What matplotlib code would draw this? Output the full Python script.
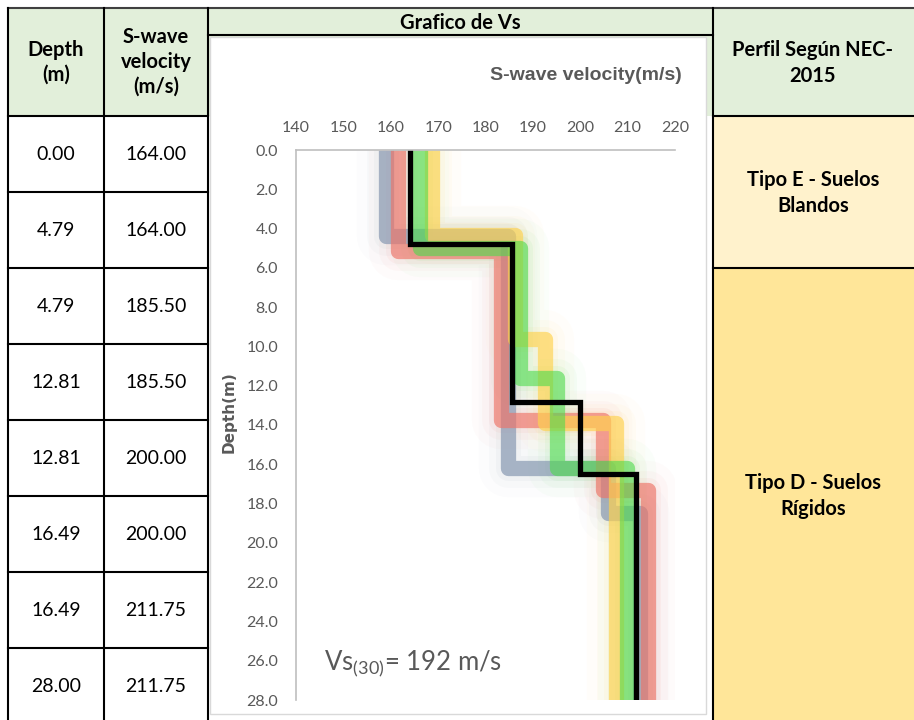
import numpy as np
import matplotlib.pyplot as plt
from matplotlib.patches import Rectangle

plt.rcParams['font.family'] = ['Lato', 'DejaVu Sans']
plt.rcParams['mathtext.fontset'] = 'custom'
plt.rcParams['mathtext.rm'] = 'Lato'

# Datos de la tabla (perfil principal)
depth_tbl = [0.00, 4.79, 4.79, 12.81, 12.81, 16.49, 16.49, 28.00]
vs_tbl = [164.00, 164.00, 185.50, 185.50, 200.00, 200.00, 211.75, 211.75]

# Perfiles de fondo (bandas de colores)
gray_d = [0, 4.4, 4.4, 16.2, 16.2, 18.5, 18.5, 28]
gray_v = [159.1, 159.1, 184.8, 184.8, 205.9, 205.9, 212.6, 212.6]
red_d = [0, 5.15, 5.15, 13.75, 13.75, 17.3, 17.3, 28]
red_v = [161.5, 161.5, 183.3, 183.3, 204.8, 204.8, 214.3, 214.3]
yel_d = [0, 4.35, 4.35, 9.6, 9.6, 13.9, 13.9, 28]
yel_v = [168.7, 168.7, 186.2, 186.2, 192.5, 192.5, 207.6, 207.6]
grn_d = [0, 5.0, 5.0, 11.6, 11.6, 16.2, 16.2, 28]
grn_v = [166.2, 166.2, 187.3, 187.3, 195.0, 195.0, 209.9, 209.9]

perfiles = ["Tipo E - Suelos\nBlandos", "Tipo D - Suelos\nRígidos"]
vs30 = 192

fig = plt.figure(figsize=(9.14, 7.2), dpi=100)

# Fondo en coordenadas de pixel
bg = fig.add_axes([0, 0, 1, 1])
bg.set_xlim(0, 914)
bg.set_ylim(720, 0)
bg.axis('off')

verde = '#E2EFDA'
bg.add_patch(Rectangle((8, 8), 906, 108, color=verde, lw=0))
bg.add_patch(Rectangle((713, 116), 201, 152, color='#FFF2CC', lw=0))
bg.add_patch(Rectangle((713, 268), 201, 452, color='#FFE699', lw=0))
# caja blanca del grafico
bg.add_patch(Rectangle((210, 37), 496, 677, facecolor='white', edgecolor='#D9D9D9', lw=1))

# lineas de la tabla
bg.plot([8, 914], [8, 8], color='#404040', lw=1.5)
for x in [8, 104, 208, 713]:
    bg.plot([x, x], [8, 720], color='black', lw=1.5)
for y in [116, 192, 268, 344, 420, 496, 572, 648]:
    bg.plot([8, 208], [y, y], color='black', lw=1.5)
bg.plot([208, 713], [35, 35], color='black', lw=1.5)
for y in [116, 268]:
    bg.plot([713, 914], [y, y], color='black', lw=1.5)

# textos
bg.text(56, 62, "Depth\n(m)", ha='center', va='center', fontsize=14.5, weight='bold', linespacing=1.3)
bg.text(156, 62, "S-wave\nvelocity\n(m/s)", ha='center', va='center', fontsize=14.5, weight='bold', linespacing=1.3)
bg.text(460, 23, "Grafico de Vs", ha='center', va='center', fontsize=14.5, weight='bold')
bg.text(813, 63, "Perfil Según NEC-\n2015", ha='center', va='center', fontsize=14.5, weight='bold', linespacing=1.4)
bg.text(813, 193, perfiles[0], ha='center', va='center', fontsize=14.5, weight='bold', linespacing=1.4)
bg.text(813, 496, perfiles[1], ha='center', va='center', fontsize=14.5, weight='bold', linespacing=1.4)

for i in range(len(depth_tbl)):
    yc = 155 + 76 * i
    bg.text(56, yc, "%.2f" % depth_tbl[i], ha='center', va='center', fontsize=14)
    bg.text(156, yc, "%.2f" % vs_tbl[i], ha='center', va='center', fontsize=14)

bg.text(682, 75, "S-wave velocity(m/s)", ha='right', va='center', fontsize=14,
        weight='bold', color='#595959', family=['Liberation Sans', 'DejaVu Sans'])
bg.text(229, 412, "Depth(m)", ha='center', va='center', rotation=90, fontsize=11,
        weight='bold', color='#595959', family=['Liberation Sans Narrow', 'DejaVu Sans'])
bg.text(324, 670, r"Vs$_{\mathrm{(30)}}$= %d m/s" % vs30, ha='left', va='baseline',
        fontsize=18.5, color='#595959')

# Grafico
ax = fig.add_axes([296/914, 20/720, 379/914, 550/720])
ax.patch.set_alpha(0)

series = [(gray_v, gray_d, '#8496B0', 0.68),
          (red_v, red_d, '#EE7468', 0.66),
          (yel_v, yel_d, '#FFD24D', 0.66),
          (grn_v, grn_d, '#4CDB4C', 0.6)]

# brillo difuso
for v, d, c, a in series:
    for lw, al in [(42, 0.025), (28, 0.04), (18, 0.06)]:
        ax.plot(v, d, color=c, lw=lw, alpha=al, solid_joinstyle='round', solid_capstyle='butt')
for v, d, c, a in series:
    ax.plot(v, d, color=c, lw=11, alpha=a, solid_joinstyle='round', solid_capstyle='butt')

ax.plot(vs_tbl, depth_tbl, color='black', lw=3.8, solid_joinstyle='miter')

ax.set_xlim(140, 220)
ax.set_ylim(28, 0)
ax.set_xticks(np.arange(140, 221, 10))
ax.set_yticks(np.arange(0, 28.1, 2))
ax.set_yticklabels(["%.1f" % t for t in np.arange(0, 28.1, 2)])
ax.xaxis.tick_top()
ax.tick_params(length=0, labelsize=11.5, labelcolor='#595959')
ax.tick_params(axis='x', pad=11)
ax.tick_params(axis='y', pad=13)
for s in ['right', 'bottom']:
    ax.spines[s].set_visible(False)
for s in ['top', 'left']:
    ax.spines[s].set_color('#BFBFBF')
    ax.spines[s].set_linewidth(1.2)

plt.savefig('out.png', dpi=100)
